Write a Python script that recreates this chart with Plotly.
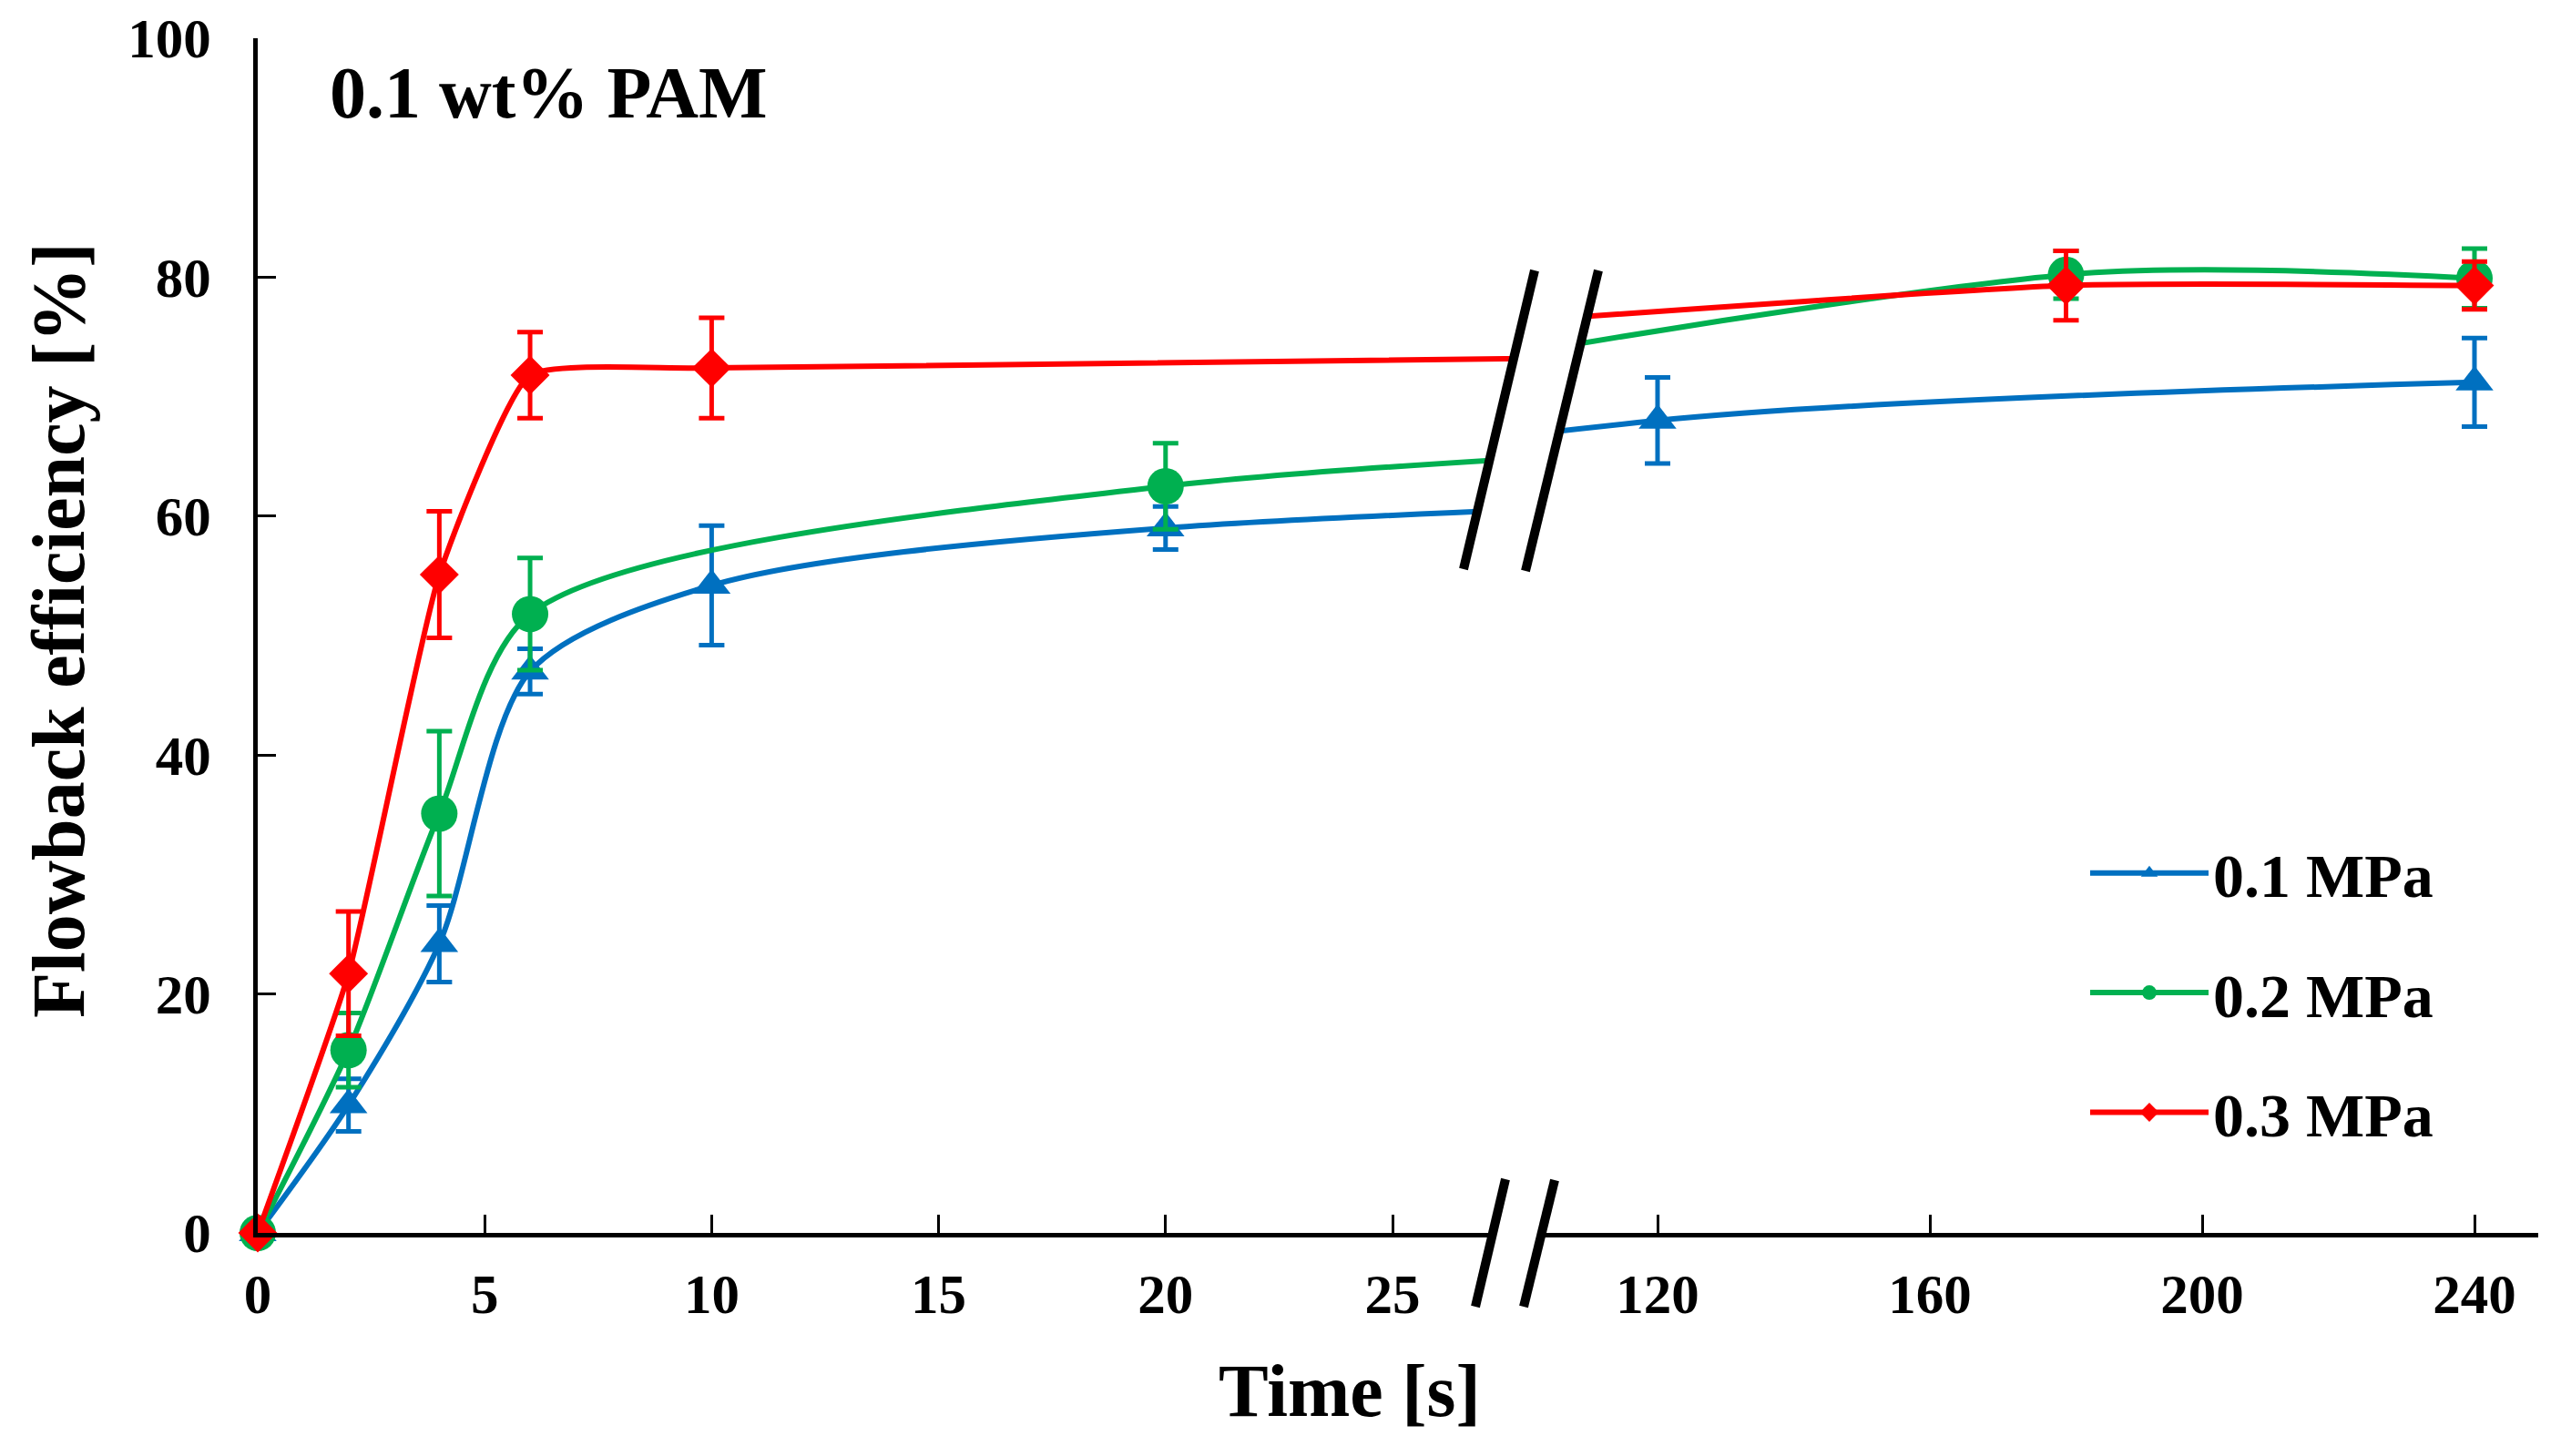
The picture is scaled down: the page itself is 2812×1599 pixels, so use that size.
import plotly.graph_objects as go

# ---------------- data ----------------
series_names = ["0.1 MPa", "0.2 MPa", "0.3 MPa"]

time_01 = [0, 2, 4, 6, 10, 20, 120, 240]
eff_01 = [0, 10.7, 24.2, 47.0, 54.2, 59.0, 68.0, 71.2]
err_01 = [0, 2.2, 3.2, 1.9, 5.0, 1.8, 3.6, 3.7]

time_02 = [0, 2, 4, 6, 20, 180, 240]
eff_02 = [0, 15.3, 35.1, 51.8, 62.5, 80.2, 79.9]
err_02 = [0, 3.1, 6.9, 4.7, 3.6, 2.0, 2.5]

time_03 = [0, 2, 4, 6, 10, 180, 240]
eff_03 = [0, 21.7, 55.1, 71.8, 72.4, 79.3, 79.3]
err_03 = [0, 5.2, 5.3, 3.6, 4.2, 2.9, 2.0]

left_ticks = [0, 5, 10, 15, 20, 25]
right_ticks = [120, 160, 200, 240]
y_ticks = [0, 20, 40, 60, 80, 100]

# ---------------- styling ----------------
W, H = 2812, 1599
ML, MR, MT, MB = 275, 33, 34, 253
PW, PH = W - ML - MR, H - MT - MB
FONT = "Liberation Serif"

colors = ["#0070C0", "#00B050", "#FF0000"]
symbols = ["triangle-up", "circle", "diamond"]
msizes = [36, 40, 33]
smooth = [0.8, 0.75, 0.45]

data = [(time_01, eff_01, err_01), (time_02, eff_02, err_02), (time_03, eff_03, err_03)]


def px(X, Y):
    return (X - ML) / PW, (MT + PH - Y) / PH


fig = go.Figure()
for i, (t, v, e) in enumerate(data):
    for ax, show in (("x", True), ("x2", False)):
        fig.add_trace(go.Scatter(
            x=t, y=v, xaxis=ax, yaxis="y",
            name=series_names[i], legendgroup=series_names[i], showlegend=show,
            mode="lines+markers",
            line=dict(color=colors[i], width=6, shape="spline", smoothing=smooth[i]),
            marker=dict(symbol=symbols[i], size=msizes[i], color=colors[i], line=dict(width=0)),
            error_y=dict(type="data", array=e, visible=True, color=colors[i], thickness=5, width=14),
            cliponaxis=(ax == "x2"),
        ))

axis_common = dict(
    showline=True, linecolor="black", linewidth=5,
    ticks="inside", ticklen=20, tickwidth=3, tickcolor="black",
    showgrid=False, zeroline=False, automargin=False,
    tickfont=dict(family=FONT, size=61, color="black", weight="bold"),
)

fig.update_layout(
    width=W, height=H,
    margin=dict(l=ML, r=MR, t=MT, b=MB, pad=0, autoexpand=False),
    paper_bgcolor="white", plot_bgcolor="white",
    xaxis=dict(domain=[0, (1665 - ML) / PW], range=[0, (1665 - ML) / 49.84],
               tickvals=left_ticks, anchor="y", ticklabelstandoff=10, **axis_common),
    xaxis2=dict(domain=[(1683 - ML) / PW, 1], range=[120 - (1812 - 1683) / 7.475, 120 + (2779 - 1812) / 7.475],
                tickvals=right_ticks, anchor="y", ticklabelstandoff=10, **axis_common),
    yaxis=dict(range=[0, 100], tickvals=y_ticks, anchor="x", ticklabelstandoff=34, **axis_common),
    legend=dict(
        x=(2282 - ML) / PW, y=px(0, 900)[1], xanchor="left", yanchor="top",
        font=dict(family=FONT, size=68, color="black", weight="bold"),
        bgcolor="rgba(0,0,0,0)", itemwidth=130, tracegroupgap=40,
        traceorder="grouped", itemsizing="trace",
    ),
    showlegend=True,
)

# axis titles and panel label
fig.add_annotation(text="Flowback efficiency [%]", xref="paper", yref="paper",
                   x=px(56, 0)[0], y=px(0, 684)[1], textangle=-90, showarrow=False,
                   font=dict(family=FONT, size=82, color="black", weight="bold"),
                   xanchor="center", yanchor="middle")
fig.add_annotation(text="Time [s]", xref="paper", yref="paper",
                   x=px(1474, 0)[0], y=px(0, 1519)[1], showarrow=False,
                   font=dict(family=FONT, size=82, color="black", weight="bold"),
                   xanchor="center", yanchor="middle")
fig.add_annotation(text="0.1 wt% PAM", xref="paper", yref="paper",
                   x=px(352, 0)[0], y=px(0, 94)[1], showarrow=False,
                   font=dict(family=FONT, size=80, color="black", weight="bold"),
                   xanchor="left", yanchor="middle")


# break marks
def add_break(lt, lb, rt, rb):
    pts = [px(*lt), px(*rt), px(*rb), px(*lb)]
    path = "M" + " L".join(f"{a:.5f},{b:.5f}" for a, b in pts) + " Z"
    fig.add_shape(type="path", path=path, xref="paper", yref="paper",
                  fillcolor="white", line=dict(width=0), layer="above")
    for a, b in ((lt, lb), (rt, rb)):
        p0, p1 = px(*a), px(*b)
        fig.add_shape(type="line", xref="paper", yref="paper",
                      x0=p0[0], y0=p0[1], x1=p1[0], y1=p1[1],
                      line=dict(color="black", width=10), layer="above")


add_break((1677, 289), (1599, 617), (1747, 289), (1667, 619))
add_break((1645, 1287), (1612, 1427), (1699, 1288), (1665, 1427))

fig.write_html("out.html")
